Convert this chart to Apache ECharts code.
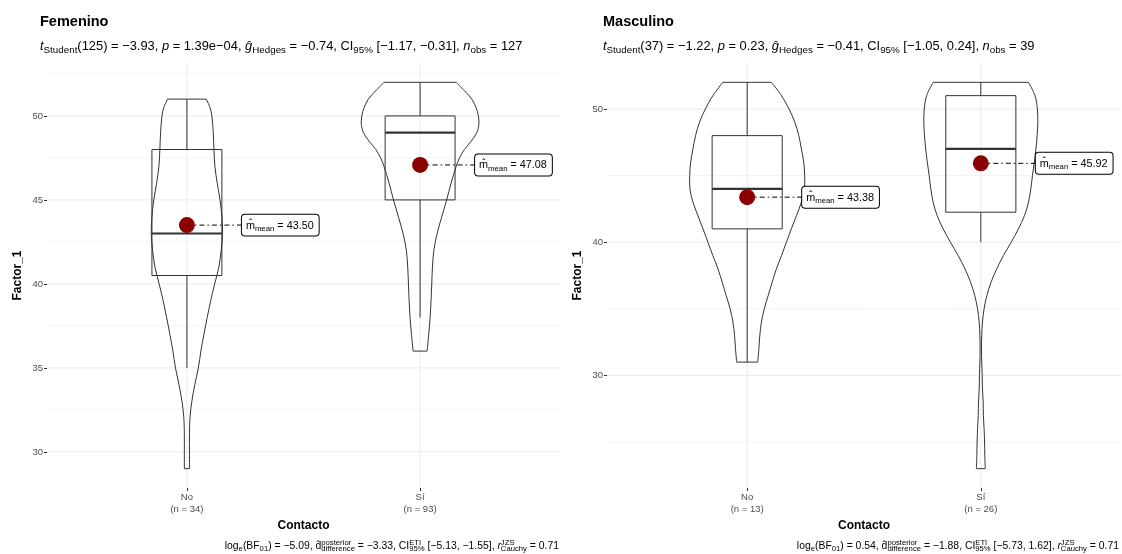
<!DOCTYPE html>
<html>
<head>
<meta charset="utf-8">
<title>Factor_1 por Contacto</title>
<script src="https://cdn.jsdelivr.net/npm/echarts@6/dist/echarts.min.js"></script>
<style>
  html, body { margin: 0; padding: 0; background: #fff; }
  #main { width: 1122px; height: 554px; }
</style>
</head>
<body>
<div id="main"></div>
<script>
// categorias y tamaños de grupo
var categories = ['No', 'Sí'];
var nFem = [34, 93];
var nMas = [13, 26];

// caja: [bigote inf, Q1, mediana, Q3, bigote sup]
var boxFem = [[35, 40.5, 43, 48, 51], [38, 45, 49, 50, 52]];
var boxMas = [[31, 41, 44, 48, 52], [40, 42.25, 47, 51, 52]];

// medias
var meanFem = [43.50, 47.08];
var meanMas = [43.38, 45.92];

// perfiles del violin: [valor, semiancho en unidades de categoria]
var violinFemNo = [[51, 0.083], [50.5, 0.099], [50, 0.107], [49, 0.113], [48, 0.116], [47, 0.12], [46, 0.13], [45, 0.142], [44, 0.15], [43, 0.153], [42, 0.147], [41, 0.137], [40, 0.119], [39, 0.102], [38, 0.087], [37, 0.073], [36, 0.06], [35, 0.049], [34, 0.034], [33, 0.021], [32, 0.013], [31, 0.011], [30, 0.011], [29, 0.011]];
var violinFemSi = [[52, 0.155], [51.5, 0.19], [51, 0.222], [50.5, 0.24], [50, 0.25], [49.5, 0.252], [49, 0.243], [48.5, 0.219], [48, 0.19], [47.5, 0.169], [47, 0.155], [46, 0.133], [45, 0.114], [44, 0.093], [43, 0.073], [42, 0.059], [41, 0.053], [40, 0.05], [39, 0.047], [38, 0.043], [37, 0.037], [36, 0.03]];
var violinMasNo = [[52, 0.104], [51, 0.147], [50, 0.179], [49, 0.204], [48, 0.221], [47, 0.232], [46, 0.242], [45, 0.246], [44, 0.245], [43, 0.232], [42, 0.211], [41, 0.189], [40, 0.168], [39, 0.147], [38, 0.125], [37, 0.107], [36, 0.09], [35, 0.073], [34, 0.061], [33, 0.054], [32, 0.05], [31, 0.045]];
var violinMasSi = [[52, 0.204], [51, 0.232], [50, 0.242], [49, 0.244], [48, 0.241], [47, 0.236], [46, 0.229], [45, 0.221], [44, 0.214], [43, 0.204], [42, 0.187], [41, 0.161], [40, 0.13], [39, 0.097], [38, 0.068], [37, 0.044], [36, 0.026], [35, 0.014], [34, 0.007], [33, 0.004], [32, 0.003], [31, 0.004], [30, 0.006], [29, 0.007], [28, 0.01], [27, 0.011], [26, 0.014], [25, 0.016], [24, 0.017], [23, 0.019]];

// ejes
var yTicksFem = [30, 35, 40, 45, 50];
var yMinorFem = [32.5, 37.5, 42.5, 47.5, 52.5];
var yTicksMas = [30, 40, 50];
var yMinorMas = [25, 35, 45];
var yRangeFem = [27.85, 53.15];
var yRangeMas = [21.55, 53.45];
var xRange = [-0.6, 1.6];

// textos
var subFem = '{i|t}{sb|Student}{n|(125) = −3.93, }{i|p}{n| = 1.39e−04, }{i|ĝ}{sb|Hedges}{n| = −0.74, CI}{sb|95%}{n| [−1.17, −0.31], }{i|n}{sb|obs}{n| = 127}';
var subMas = '{i|t}{sb|Student}{n|(37) = −1.22, }{i|p}{n| = 0.23, }{i|ĝ}{sb|Hedges}{n| = −0.41, CI}{sb|95%}{n| [−1.05, 0.24], }{i|n}{sb|obs}{n| = 39}';
var capFem = '{n|log}{sb|e}{n|(BF}{sb|01}{n|) = −5.09, d̂}{sp|posterior}{sb|difference}{n| = −3.33, CI}{sp|ETI}{sb|95%}{n| [−5.13, −1.55], }{i|r}{sp|JZS}{sb|Cauchy}{n| = 0.71}';
var capMas = '{n|log}{sb|e}{n|(BF}{sb|01}{n|) = 0.54, d̂}{sp|posterior}{sb|difference}{n| = −1.88, CI}{sp|ETI}{sb|95%}{n| [−5.73, 1.62], }{i|r}{sp|JZS}{sb|Cauchy}{n| = 0.71}';

var FONT = 'Liberation Sans';
var INK = '#333333';
var GRIDC = '#EBEBEB';

function richText(size, ratio) {
  var base = { fontFamily: FONT, color: '#000', fontWeight: 'normal' };
  var r = ratio || 0.72;
  return {
    n: Object.assign({ fontSize: size }, base),
    i: Object.assign({ fontSize: size, fontStyle: 'italic' }, base),
    sb: Object.assign({ fontSize: size * r, padding: [size * 0.55, 0, 0, 0] }, base),
    sp: Object.assign({ fontSize: size * r, width: 0, padding: [0, 0, size * 0.55, 0] }, base)
  };
}

var chart = echarts.init(document.getElementById('main'), null, { renderer: 'canvas' });

function gridLines(grid, major, minor) {
  var items = [];
  major.forEach(function (v) { items.push([v, 0]); });
  minor.forEach(function (v) { items.push([v, 1]); });
  return {
    type: 'custom', xAxisIndex: grid, yAxisIndex: grid, z: 0, silent: true,
    data: items,
    renderItem: function (params, api) {
      var v = api.value(0);
      var a = api.coord([xRange[0], v]);
      var b = api.coord([xRange[1], v]);
      return { type: 'line', shape: { x1: a[0], y1: a[1], x2: b[0], y2: b[1] },
        style: { stroke: GRIDC, lineWidth: api.value(1) ? 0.6 : 1 } };
    }
  };
}

function catLines(grid, yr) {
  return {
    type: 'custom', xAxisIndex: grid, yAxisIndex: grid, z: 0, silent: true,
    data: [[0], [1]],
    renderItem: function (params, api) {
      var a = api.coord([api.value(0), yr[0]]);
      var b = api.coord([api.value(0), yr[1]]);
      return { type: 'line', shape: { x1: a[0], y1: a[1], x2: b[0], y2: b[1] },
        style: { stroke: GRIDC, lineWidth: 1 } };
    }
  };
}

function violins(grid, profiles) {
  return {
    type: 'custom', xAxisIndex: grid, yAxisIndex: grid, z: 2, silent: true,
    data: [[0], [1]],
    renderItem: function (params, api) {
      var prof = profiles[params.dataIndex];
      var cx = api.value(0);
      var left = prof.map(function (p) { return api.coord([cx - p[1], p[0]]); });
      var right = prof.map(function (p) { return api.coord([cx + p[1], p[0]]); });
      var st = { stroke: INK, fill: null, lineWidth: 1 };
      var last = prof.length - 1;
      return { type: 'group', children: [
        { type: 'polyline', shape: { points: left, smooth: 0.35 }, style: st },
        { type: 'polyline', shape: { points: right, smooth: 0.35 }, style: st },
        { type: 'line', shape: { x1: left[0][0], y1: left[0][1], x2: right[0][0], y2: right[0][1] }, style: st },
        { type: 'line', shape: { x1: left[last][0], y1: left[last][1], x2: right[last][0], y2: right[last][1] }, style: st }
      ] };
    }
  };
}

function boxes(grid, stats) {
  return {
    type: 'custom', xAxisIndex: grid, yAxisIndex: grid, z: 3, silent: true,
    data: stats.map(function (s, i) { return [i].concat(s); }),
    renderItem: function (params, api) {
      var cx = api.value(0);
      var lo = api.coord([cx, api.value(1)]);
      var q1 = api.coord([cx - 0.15, api.value(2)]);
      var med = api.coord([cx - 0.15, api.value(3)]);
      var q3 = api.coord([cx + 0.15, api.value(4)]);
      var hi = api.coord([cx, api.value(5)]);
      var st = { stroke: INK, fill: null, lineWidth: 1 };
      return { type: 'group', children: [
        { type: 'line', shape: { x1: lo[0], y1: lo[1], x2: lo[0], y2: q1[1] }, style: st },
        { type: 'line', shape: { x1: hi[0], y1: hi[1], x2: hi[0], y2: q3[1] }, style: st },
        { type: 'rect', shape: { x: q1[0], y: q3[1], width: q3[0] - q1[0], height: q1[1] - q3[1] }, style: st },
        { type: 'line', shape: { x1: med[0], y1: med[1], x2: q3[0], y2: med[1] }, style: { stroke: INK, lineWidth: 2.2 } }
      ] };
    }
  };
}

function meanLinks(grid, means) {
  return {
    type: 'custom', xAxisIndex: grid, yAxisIndex: grid, z: 4, silent: true,
    data: means.map(function (m, i) { return [i, m]; }),
    renderItem: function (params, api) {
      var p = api.coord([api.value(0), api.value(1)]);
      return { type: 'line', shape: { x1: p[0], y1: p[1], x2: p[0] + 55, y2: p[1] },
        style: { stroke: '#000', lineWidth: 1, lineDash: [5, 3, 1.5, 3] } };
    }
  };
}

function meanPoints(grid, means) {
  return {
    type: 'scatter', xAxisIndex: grid, yAxisIndex: grid, z: 5, silent: true,
    symbolSize: 16,
    itemStyle: { color: '#8B0000', opacity: 1 },
    data: means.map(function (m, i) { return [i, m]; }),
    label: {
      show: true, position: 'right', distance: 47,
      backgroundColor: '#fff', borderColor: '#000', borderWidth: 1, borderRadius: 3,
      padding: [4, 5, 3, 4],
      formatter: function (p) {
        return '{n|m̂}{sb|mean}{n| = ' + p.value[1].toFixed(2) + '}';
      },
      rich: richText(10.8)
    }
  };
}

function xAxisFor(grid, ns) {
  return {
    type: 'value', gridIndex: grid, min: xRange[0], max: xRange[1],
    splitLine: { show: false }, axisLine: { show: false, onZero: false },
    axisTick: { show: true, length: 3, customValues: [0, 1], lineStyle: { color: INK, width: 1 } },
    axisLabel: {
      customValues: [0, 1], margin: 3, color: '#4D4D4D', fontSize: 9.5, fontFamily: FONT, lineHeight: 12,
      formatter: function (v) { var i = Math.round(v); return categories[i] + '\n(n = ' + ns[i] + ')'; }
    },
    name: 'Contacto', nameLocation: 'middle', nameGap: 29,
    nameTextStyle: { fontSize: 12, fontWeight: 'bold', color: '#000', fontFamily: FONT }
  };
}

function yAxisFor(grid, yr, ticks) {
  return {
    type: 'value', gridIndex: grid, min: yr[0], max: yr[1],
    splitLine: { show: false }, minorSplitLine: { show: false }, axisLine: { show: false, onZero: false },
    axisTick: { show: true, length: 3, customValues: ticks, lineStyle: { color: INK, width: 1 } },
    axisLabel: { customValues: ticks, margin: 4, color: '#4D4D4D', fontSize: 9.5, fontFamily: FONT },
    name: 'Factor_1', nameLocation: 'middle', nameGap: 23,
    nameTextStyle: { fontSize: 12, fontWeight: 'bold', color: '#000', fontFamily: FONT }
  };
}

var titleStyle = { fontSize: 14.5, fontWeight: 700, color: '#000', fontFamily: FONT };

var option = {
  animation: false,
  backgroundColor: '#fff',
  textStyle: { fontFamily: FONT },
  title: [
    { text: 'Femenino', left: 40, top: 14, padding: 0, textStyle: titleStyle },
    { text: subFem, left: 40, top: 38, padding: 0, textStyle: { fontWeight: 'normal', rich: richText(12.9, 0.76) } },
    { text: 'Masculino', left: 603, top: 14, padding: 0, textStyle: titleStyle },
    { text: subMas, left: 603, top: 38, padding: 0, textStyle: { fontWeight: 'normal', rich: richText(12.9, 0.76) } },
    { text: capFem, right: 563, top: 539, padding: 0, textStyle: { fontWeight: 'normal', rich: richText(10.4, 0.74) } },
    { text: capMas, right: 3, top: 539, padding: 0, textStyle: { fontWeight: 'normal', rich: richText(10.4, 0.74) } }
  ],
  grid: [
    { left: 47, top: 63, width: 513, height: 425, outerBoundsMode: 'none' },
    { left: 607, top: 63, width: 514, height: 425, outerBoundsMode: 'none' }
  ],
  xAxis: [xAxisFor(0, nFem), xAxisFor(1, nMas)],
  yAxis: [yAxisFor(0, yRangeFem, yTicksFem), yAxisFor(1, yRangeMas, yTicksMas)],
  series: [
    gridLines(0, yTicksFem, yMinorFem), catLines(0, yRangeFem),
    violins(0, [violinFemNo, violinFemSi]), boxes(0, boxFem),
    meanLinks(0, meanFem), meanPoints(0, meanFem),
    gridLines(1, yTicksMas, yMinorMas), catLines(1, yRangeMas),
    violins(1, [violinMasNo, violinMasSi]), boxes(1, boxMas),
    meanLinks(1, meanMas), meanPoints(1, meanMas)
  ]
};

chart.setOption(option);
</script>
</body>
</html>
